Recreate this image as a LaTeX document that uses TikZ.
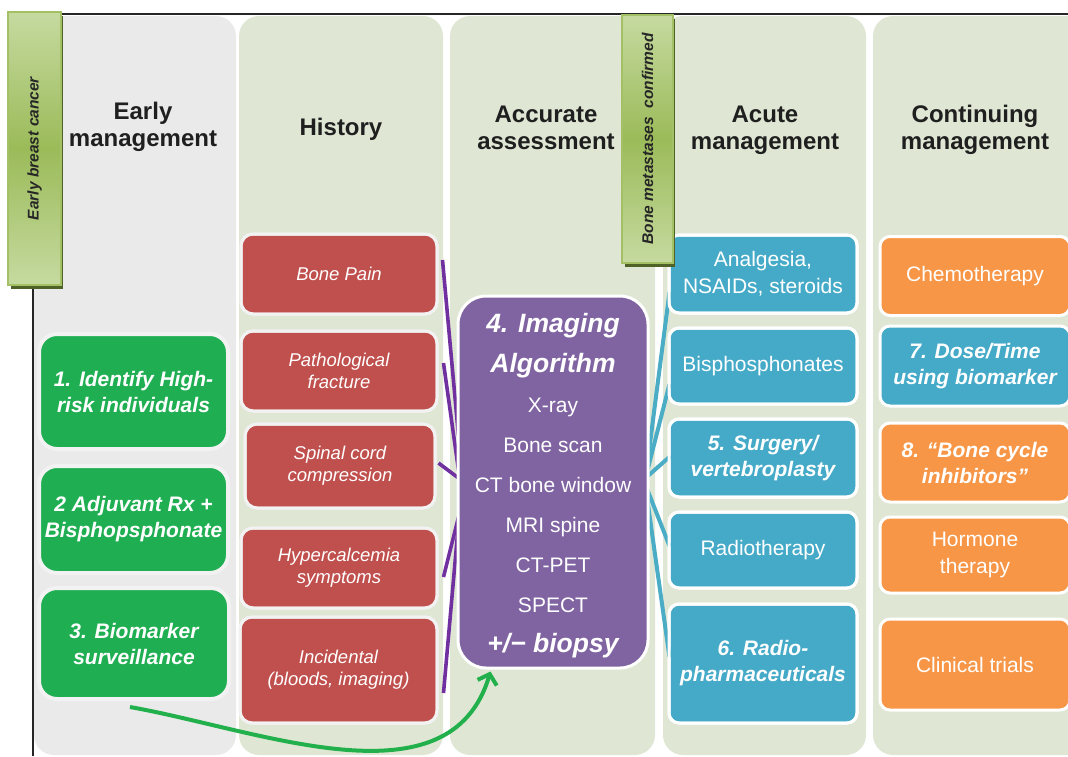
\documentclass[tikz,border=0pt]{standalone}
\usepackage{fontspec}
\setmainfont{Liberation Sans}
\usetikzlibrary{calc,arrows.meta}
\definecolor{colgrey}{HTML}{EAEAEA}
\definecolor{colgreen}{HTML}{DFE7D4}
\definecolor{bgreen}{HTML}{1FAF52}
\definecolor{bred}{HTML}{C0504D}
\definecolor{bpurple}{HTML}{8064A2}
\definecolor{bblue}{HTML}{45AAC8}
\definecolor{borange}{HTML}{F79646}
\definecolor{lnpurple}{HTML}{7030A0}
\definecolor{lnblue}{HTML}{4BACC6}
\definecolor{lblight}{HTML}{C6DAA0}
\definecolor{lbdark}{HTML}{9BBB59}
\definecolor{lbedge}{HTML}{A3C164}
\definecolor{lbshadow}{HTML}{4F6228}
\definecolor{ringgrey}{HTML}{F2F2F2}
\definecolor{headtext}{HTML}{1F1F1F}
\definecolor{arrowgreen}{HTML}{21B04B}
\begin{document}
\begin{tikzpicture}[x=1pt,y=-1pt,
  basebox/.style={draw=white, line width=3pt, text=white, align=center, inner sep=0pt},
  greenbox/.style={basebox, fill=bgreen, draw=ringgrey, line width=4pt, rounded corners=18pt,
    font=\bfseries\itshape\fontsize{21}{26}\selectfont},
  redbox/.style={basebox, fill=bred, draw=ringgrey, rounded corners=12pt,
    font=\itshape\fontsize{18.5}{22}\selectfont},
  purplebox/.style={basebox, fill=bpurple, rounded corners=28pt, font=\fontsize{21}{40}\selectfont},
  bluebox/.style={basebox, fill=bblue, rounded corners=10pt, font=\fontsize{21}{27}\selectfont},
  blueboldbox/.style={basebox, fill=bblue, rounded corners=10pt, font=\bfseries\itshape\fontsize{21}{26}\selectfont},
  orangebox/.style={basebox, fill=borange, rounded corners=10pt, font=\fontsize{21}{27}\selectfont},
  orangeboldbox/.style={basebox, fill=borange, rounded corners=10pt, font=\bfseries\itshape\fontsize{21}{26}\selectfont},
  heading/.style={font=\bfseries\fontsize{24}{27}\selectfont, text=headtext, align=center},
  colbox/.style={rounded corners=20pt},
  sidelabel/.style={draw=lbedge, line width=2pt, top color=lblight, bottom color=lblight, middle color=lbdark, inner sep=0pt},
  sidetext/.style={rotate=90, font=\bfseries\itshape\fontsize{15.5}{18}\selectfont, text=black!85},
  axisline/.style={draw=black!85, line width=2.2pt},
  pline/.style={draw=lnpurple, line width=3.6pt},
  bline/.style={draw=lnblue, line width=4pt},
  garrow/.style={draw=arrowgreen, line width=4pt, -{Straight Barb[length=9pt,width=20pt]}}
]
\useasboundingbox (0,0) rectangle (1068,756);
\clip (0,0) rectangle (1068,756);

% columns
\fill[colgrey, colbox] (34,16) rectangle (236,755);
\fill[colgreen, colbox] (239,16) rectangle (443,755);
\fill[colgreen, colbox] (450,16) rectangle (655,755);
\fill[colgreen, colbox] (663,16) rectangle (866,755);
\fill[colgreen, colbox] (873,16) rectangle (1100,755);

% axes
\draw[axisline] (60,14) -- (1068,14);
\draw[axisline] (33,14) -- (33,756);

% headings
\node[heading] (h1) at (143,127) {Early\\management};
\node[heading] (h2) at (341,129) {History};
\node[heading] (h3) at (546,128) {Accurate\\assessment};
\node[heading] (h4) at (765,130) {Acute\\management};
\node[heading] (h5) at (975,130) {Continuing\\management};

\path
  (133.5,391.5) coordinate (g1c)
  (133.5,519.5) coordinate (g2c)
  (134,643.5) coordinate (g3c);

% central node as invisible frame for anchors
\node[purplebox, minimum width=190pt, minimum height=372pt, draw=none, fill=none] (algp) at (553,482) {};

% red boxes
\node[redbox, minimum width=196pt, minimum height=80pt] (bp) at (339,274) {Bone Pain};
\node[redbox, minimum width=196pt, minimum height=80pt] (pf) at (339,371) {Pathological\\fracture};
\node[redbox, minimum width=190pt, minimum height=84pt] (sc) at (340,466) {Spinal cord\\compression};
\node[redbox, minimum width=196pt, minimum height=80pt] (hc) at (339,568) {Hypercalcemia\\symptoms};
\node[redbox, minimum width=197pt, minimum height=106pt] (inc) at (338.5,670) {Incidental\\(bloods, imaging)};

% blue boxes (acute)
\node[bluebox, minimum width=188pt, minimum height=78pt] (an) at (763,274) {Analgesia,\\NSAIDs, steroids};
\node[bluebox, minimum width=188pt, minimum height=76pt] (bi) at (763,366) {Bisphosphonates};
\node[blueboldbox, minimum width=188pt, minimum height=78pt] (su) at (763,458) {5. Surgery/\\vertebroplasty};
\node[bluebox, minimum width=188pt, minimum height=76pt] (rt) at (763,550) {Radiotherapy};
\node[blueboldbox, minimum width=188pt, minimum height=119pt] (rp) at (763,663.5) {6. Radio-\\pharmaceuticals};

% connectors
\draw[pline] ($(bp.east)+(4,-14)$) -- ($(algp.west)+(2,-46)$);
\draw[pline] ($(pf.east)+(5,-8)$) -- ($(algp.west)+(2,-12)$);
\draw[pline] ($(sc.east)+(2,-3)$) -- ($(algp.west)+(2,-4)$);
\draw[pline] ($(hc.east)+(5,9)$) -- ($(algp.west)+(2,35)$);
\draw[pline] ($(inc.east)+(5,23)$) -- ($(algp.west)+(2,41)$);
\draw[bline] ($(algp.east)+(-4,-4)$) -- ($(an.west)+(2,18)$);
\draw[bline] ($(algp.east)+(-4,-4)$) -- ($(bi.west)+(2,18)$);
\draw[bline] ($(algp.east)+(-4,-4)$) -- ($(su.west)+(3,-2)$);
\draw[bline] ($(algp.east)+(-4,3)$) -- ($(rt.west)+(2,-4)$);
\draw[bline] ($(algp.east)+(-4,5)$) -- ($(rp.west)+(2,-6.5)$);

% redraw box edges on top of connector ends
\node[redbox, minimum width=196pt, minimum height=80pt, fill=none] (bpe) at (bp) {};
\node[redbox, minimum width=196pt, minimum height=80pt, fill=none] (pfe) at (pf) {};
\node[redbox, minimum width=190pt, minimum height=84pt, fill=none] (sce) at (sc) {};
\node[redbox, minimum width=196pt, minimum height=80pt, fill=none] (hce) at (hc) {};
\node[redbox, minimum width=197pt, minimum height=106pt, fill=none] (ince) at (inc) {};
\node[bluebox, minimum width=188pt, minimum height=78pt, fill=none] (ane) at (an) {};
\node[bluebox, minimum width=188pt, minimum height=76pt, fill=none] (bie) at (bi) {};
\node[bluebox, minimum width=188pt, minimum height=78pt, fill=none] (sue) at (su) {};
\node[bluebox, minimum width=188pt, minimum height=76pt, fill=none] (rte) at (rt) {};
\node[bluebox, minimum width=188pt, minimum height=119pt, fill=none] (rpe) at (rp) {};

% central box
\node[purplebox, minimum width=190pt, minimum height=372pt] (alg) at (553,482)
  {{\bfseries\itshape\fontsize{26.5}{40}\selectfont\rule{0pt}{26pt}4. Imaging}\\
   {\bfseries\itshape\fontsize{26.5}{40}\selectfont Algorithm}\\
   X-ray\\Bone scan\\CT bone window\\MRI spine\\CT-PET\\SPECT\\
   {\bfseries\itshape\fontsize{26.5}{40}\selectfont +/− biopsy}};

% green boxes
\node[greenbox, minimum width=189pt, minimum height=115pt] (g1) at (g1c) {1. Identify High-\\risk individuals};
\node[greenbox, minimum width=189pt, minimum height=107pt] (g2) at (g2c) {2 Adjuvant Rx +\\Bisphopsphonate};
\node[greenbox, minimum width=190pt, minimum height=111pt] (g3) at (g3c) {3. Biomarker\\surveillance};

% orange boxes (continuing)
\node[orangebox, minimum width=190pt, minimum height=79pt] (ch) at (975,276) {Chemotherapy};
\node[blueboldbox, minimum width=190pt, minimum height=80pt] (dt) at (975,366) {7. Dose/Time\\using biomarker};
\node[orangeboldbox, minimum width=190pt, minimum height=79pt] (bc) at (975,462.5) {8. “Bone cycle\\inhibitors”};
\node[orangebox, minimum width=190pt, minimum height=76pt] (ho) at (975,555) {Hormone\\therapy};
\node[orangebox, minimum width=190pt, minimum height=91pt] (cl) at (975,664.5) {Clinical trials};

% side labels
\fill[lbshadow] (11,16) rectangle (63,289);
\node[sidelabel, minimum width=53pt, minimum height=273pt] (ebc) at (34.5,148.5) {};
\node[sidetext] (ebct) at (ebc.center) {Early breast cancer};
\fill[lbshadow] (625,19) rectangle (675,267);
\node[sidelabel, minimum width=51pt, minimum height=248pt] (bmc) at (647.5,139) {};
\node[sidetext] (bmct) at (bmc.center) {Bone metastases~ confirmed};

% green arrow
\coordinate (gstart) at (130,707);
\coordinate (gend) at ($(alg.south west)+(34,2)$);
\draw[garrow] (gstart) .. controls (260,730) and (450,808) .. (gend);
\end{tikzpicture}
\end{document}
